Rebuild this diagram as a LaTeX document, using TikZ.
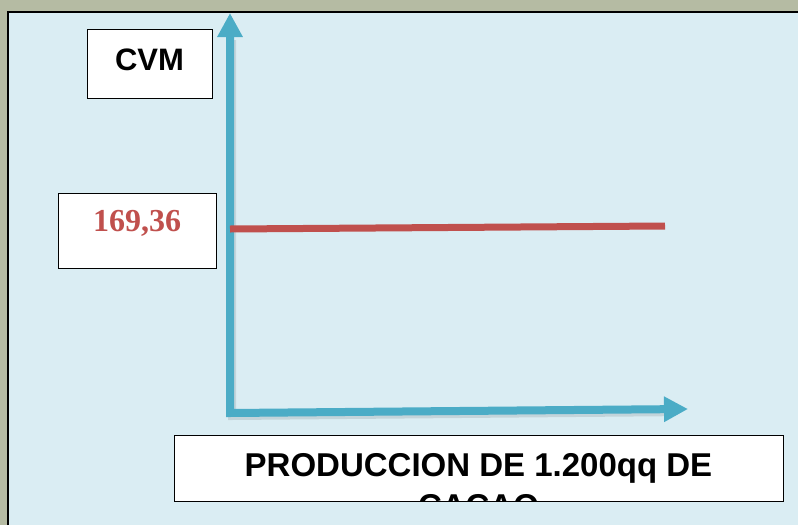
\documentclass[tikz,border=0pt]{standalone}
\usepackage{fontspec}
\setmainfont{Liberation Sans}
\newfontfamily\valfont{Liberation Serif}
\usetikzlibrary{positioning,arrows.meta}
\definecolor{olivebg}{HTML}{B5BBA3}
\definecolor{panelbg}{HTML}{DAEDF3}
\definecolor{axisblue}{HTML}{4BACC6}
\definecolor{costred}{HTML}{C0504D}

\begin{document}
\begin{tikzpicture}[
	x=1pt,y=-1pt,
	lbox/.style={
	  draw=black,
	  fill=white,
	  line width=1pt,
	  inner sep=0pt
	},
	axis/.style={
	  draw=axisblue,
	  line width=8pt,
	  line join=miter,
	  {Triangle[width=24pt,length=24pt]}-{Triangle[width=24pt,length=24pt]}
	},
	axshadow/.style={
	  draw=black,
	  opacity=0.1,
	  line width=8pt,
	  line join=miter,
	  shorten <=24pt,
	  shorten >=24pt
	},
	cvmline/.style={
	  draw=costred,
	  line width=7pt
	}
]
\useasboundingbox (0,0) rectangle (798,525);

% background and panel
\fill[olivebg] (0,0) rectangle (798,525);
\fill[panelbg] (8,12) rectangle (798,525);
\draw[line width=2pt] (8,525) -- (8,12) -- (798,12);

% axes
\coordinate (ytip) at (230,13);
\coordinate (o) at (230,413);
\coordinate (xtip) at (688,409);
\draw[axshadow] ([shift={(2,3)}]ytip) -- ([shift={(2,3)}]o) -- ([shift={(2,3)}]xtip);
\draw[axis] (ytip) -- (o) -- (xtip);

% cost line
\coordinate (c1) at (230,229);
\coordinate (c2) at (665,226);
\draw[cvmline] (c1) -- (c2);

% y label
\node[lbox,minimum width=125pt,minimum height=69pt] at (149.5,63.5)
  (cvm) {};
\node[font=\fontsize{31}{36}\selectfont\bfseries] at ([yshift=4pt]cvm.center)
  (cvmtxt) {CVM};

% value
\node[lbox,minimum width=158pt,minimum height=75pt] at (137,230.5)
  (val) {};
\node[font=\valfont\fontsize{32}{36}\selectfont\bfseries,text=costred]
  at ([yshift=7pt]val.center) (valtxt) {169,36};

% x label
\node[lbox,minimum width=609pt,minimum height=66pt] at (478.5,468)
  (prod) {};
\begin{scope}
\clip (prod.south west) rectangle (prod.north east);
\node[anchor=north,inner sep=0pt,align=center,
  font=\fontsize{33}{41}\selectfont\bfseries] at ([yshift=-19pt]prod.north)
  (prodtxt) {PRODUCCION DE 1.200qq DE\\CACAO};
\end{scope}

\end{tikzpicture}
\end{document}
